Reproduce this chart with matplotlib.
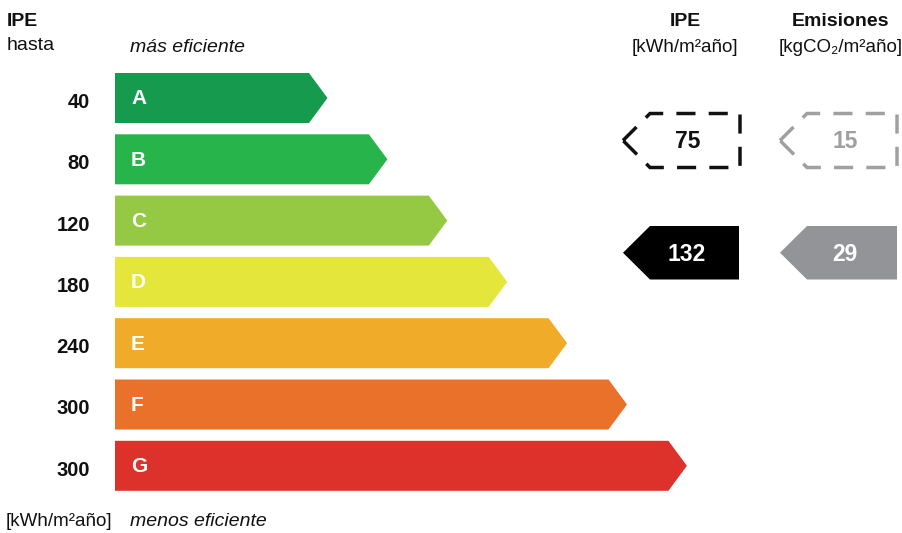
import matplotlib
matplotlib.use("Agg")
import matplotlib.pyplot as plt
from matplotlib.patches import Polygon

plt.rcParams['font.family'] = ['Liberation Sans', 'DejaVu Sans']

# ---- data ----
categories = ['A', 'B', 'C', 'D', 'E', 'F', 'G']
ipe_limits = [40, 80, 120, 180, 240, 300, 300]
bar_colors = ['#159a4e', '#27b44b', '#95c943', '#e5e63c', '#f0ac29', '#ea7129', '#dd322b']
ipe_reference = 75
emis_reference = 15
ipe_value = 132
emis_value = 29

W, H = 903, 533
fig = plt.figure(figsize=(W / 100, H / 100), dpi=100)
ax = fig.add_axes([0, 0, 1, 1])
ax.set_xlim(0, W)
ax.set_ylim(H, 0)
ax.axis('off')

# layout
x0 = 115
first_end = 309
step_x = 59.9
y_first = 98
step_y = 61.3
bar_h = 50
tip = 18.5
dark = '#111111'

for i, (cat, lim, col) in enumerate(zip(categories, ipe_limits, bar_colors)):
    yc = y_first + i * step_y
    xe = first_end + i * step_x
    poly = Polygon([(x0, yc - bar_h / 2), (xe, yc - bar_h / 2), (xe + tip, yc),
                    (xe, yc + bar_h / 2), (x0, yc + bar_h / 2)],
                   closed=True, facecolor=col, edgecolor='none')
    ax.add_patch(poly)
    ax.text(x0 + 16, yc + 1, cat, color='white', fontsize=15, fontweight='bold',
            ha='left', va='center')
    ax.text(90, yc + 4.5, str(lim), color=dark, fontsize=14.5, fontweight='bold',
            ha='right', va='center')

# headers left
ax.text(7, 21, 'IPE', fontsize=14, fontweight='bold', ha='left', va='center', color=dark)
ax.text(7, 46, 'hasta', fontsize=14, ha='left', va='center', color=dark)
ax.text(130, 47, 'más eficiente', fontsize=14, style='italic', ha='left', va='center', color=dark)
ax.text(6, 521, '[kWh/m²año]', fontsize=13.5, ha='left', va='center', color=dark)
ax.text(130, 521, 'menos eficiente', fontsize=14, style='italic', ha='left', va='center', color=dark)

# headers right
ax.text(685, 22, 'IPE', fontsize=14, fontweight='bold', ha='center', va='center', color=dark)
ax.text(685, 48, '[kWh/m²año]', fontsize=13.5, ha='center', va='center', color=dark)
ax.text(841, 22, 'Emisiones', fontsize=14, fontweight='bold', ha='center', va='center', color=dark)
ax.text(841, 48, '[kgCO₂/m²año]', fontsize=13.5, ha='center', va='center', color=dark)


def indicator(xtip, xleft, xright, ytop, ybot, value, face, edge, dashed, txtcol):
    ym = (ytop + ybot) / 2
    pts = [(xtip, ym), (xleft, ytop), (xright, ytop), (xright, ybot), (xleft, ybot)]
    if dashed:
        p = Polygon(pts, closed=True, facecolor='none', edgecolor=edge,
                    linewidth=2.5, linestyle=(0, (5.5, 3.8)))
    else:
        p = Polygon(pts, closed=True, facecolor=face, edgecolor='none')
    ax.add_patch(p)
    ax.text(xright - 52, ym + 1.5, str(value), color=txtcol, fontsize=16.5,
            fontweight='bold', ha='center', va='center')


indicator(623, 650, 740, 113.5, 167.5, ipe_reference, 'none', dark, True, dark)
indicator(780, 807, 897, 113.5, 167.5, emis_reference, 'none', '#a0a0a0', True, '#a0a0a0')
indicator(623, 650, 739, 226, 279.5, ipe_value, '#000000', None, False, 'white')
indicator(780, 807, 897, 226, 279.5, emis_value, '#939497', None, False, 'white')

fig.savefig('out.png', dpi=100)
